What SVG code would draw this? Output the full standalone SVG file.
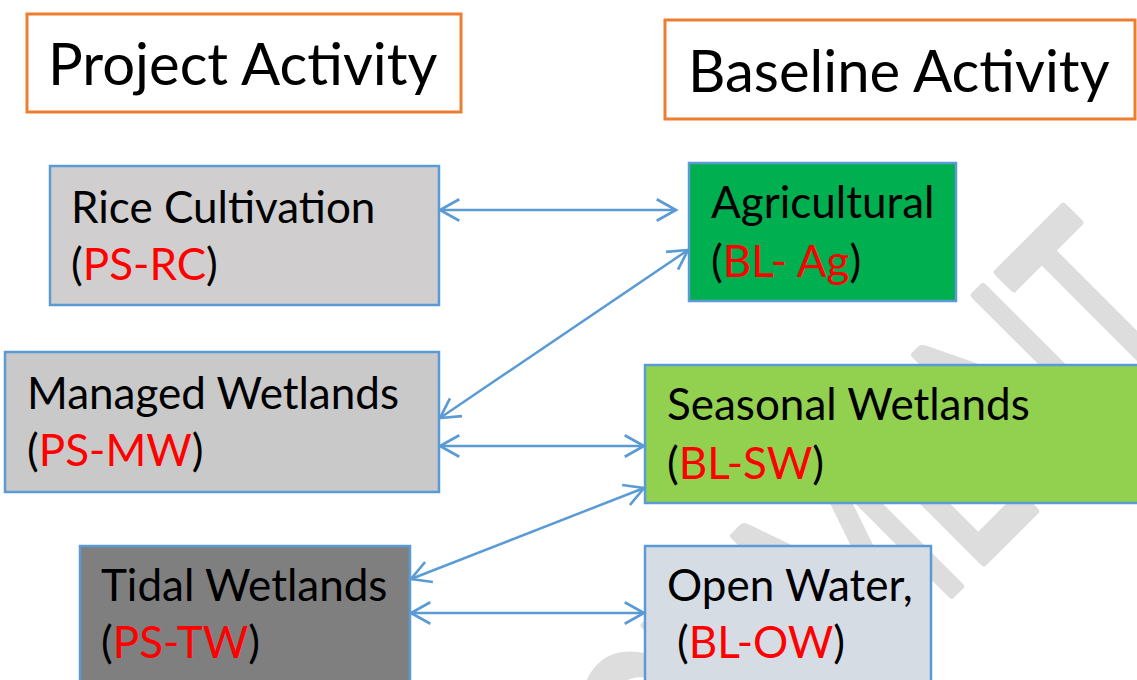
<svg xmlns="http://www.w3.org/2000/svg" width="1137" height="680" viewBox="0 0 1137 680">
<defs>
<style>
.hdr{fill:#FFFFFF;stroke:#ED7D31;stroke-width:3}
.box{stroke:#5B9BD5;stroke-width:2.5}
.t{font-family:Lato,"Open Sans","Liberation Sans",sans-serif;font-size:44px;fill:#000000}
.h{font-family:Lato,"Open Sans","Liberation Sans",sans-serif;font-size:58px;fill:#000000}
.r{fill:#FF0000}
.wm{font-family:Lato,"Open Sans","Liberation Sans",sans-serif;font-size:170px;fill:#DDDDDD;stroke:#DDDDDD;stroke-width:5;stroke-linejoin:round;stroke-linecap:round}
.c{stroke:#5B9BD5;stroke-width:2.5;fill:none}
</style>
<marker id="ah" markerUnits="userSpaceOnUse" markerWidth="30" markerHeight="30" viewBox="-22 -14 26 28" refX="0" refY="0" orient="auto-start-reverse">
<path d="M -18 -10 L 0 0 L -18 10" fill="none" stroke="#5B9BD5" stroke-width="2.5"/>
</marker>
</defs>
<rect width="1137" height="680" fill="#FFFFFF"/>
<g id="watermark">
<text class="wm" text-anchor="end" transform="translate(1204,342) rotate(-45) scale(1,1.6)">DOCUMENT</text>
</g>
<g id="hdr-project">
<rect class="hdr" x="27" y="14" width="434" height="98"/>
<text class="h" x="48" y="85">Project Activity</text>
</g>
<g id="hdr-baseline">
<rect class="hdr" x="665" y="20" width="470" height="99"/>
<text class="h" x="688" y="92">Baseline Activity</text>
</g>
<g id="ps-rc">
<rect class="box" x="50" y="166" width="389" height="139" fill="#D0CECE"/>
<text class="t" x="71" y="223">Rice Cultivation</text>
<text class="t" x="71" y="280">(<tspan class="r">PS-RC</tspan>)</text>
</g>
<g id="ps-mw">
<rect class="box" x="5" y="352" width="434" height="140" fill="#C9C9C9"/>
<text class="t" x="27" y="409">Managed Wetlands</text>
<text class="t" x="27" y="466">(<tspan class="r">PS-MW</tspan>)</text>
</g>
<g id="ps-tw">
<rect class="box" x="80" y="546" width="330" height="150" fill="#7F7F7F"/>
<text class="t" x="101" y="601">Tidal Wetlands</text>
<text class="t" x="101" y="658">(<tspan class="r">PS-TW</tspan>)</text>
</g>
<g id="bl-ag">
<rect class="box" x="689" y="163" width="267" height="138" fill="#00B050"/>
<text class="t" x="711" y="218">Agricultural</text>
<text class="t" x="711" y="277">(<tspan class="r">BL- Ag</tspan>)</text>
</g>
<g id="bl-sw">
<rect class="box" x="645" y="365" width="500" height="138" fill="#92D050"/>
<text class="t" x="667" y="420">Seasonal Wetlands</text>
<text class="t" x="667" y="479">(<tspan class="r">BL-SW</tspan>)</text>
</g>
<g id="bl-ow">
<rect class="box" x="645" y="546" width="286" height="150" fill="#D6DCE4"/>
<text class="t" x="667" y="601">Open Water,</text>
<text class="t" x="677" y="658">(<tspan class="r">BL-OW</tspan>)</text>
</g>
<g id="connectors">
<line class="c" x1="440" y1="210" x2="676" y2="210" marker-start="url(#ah)" marker-end="url(#ah)"/>
<line class="c" x1="440" y1="418" x2="688" y2="250" marker-start="url(#ah)" marker-end="url(#ah)"/>
<line class="c" x1="440" y1="446" x2="644" y2="446" marker-start="url(#ah)" marker-end="url(#ah)"/>
<line class="c" x1="411" y1="579" x2="644" y2="488" marker-start="url(#ah)" marker-end="url(#ah)"/>
<line class="c" x1="411" y1="613" x2="644" y2="613" marker-start="url(#ah)" marker-end="url(#ah)"/>
</g>
</svg>
